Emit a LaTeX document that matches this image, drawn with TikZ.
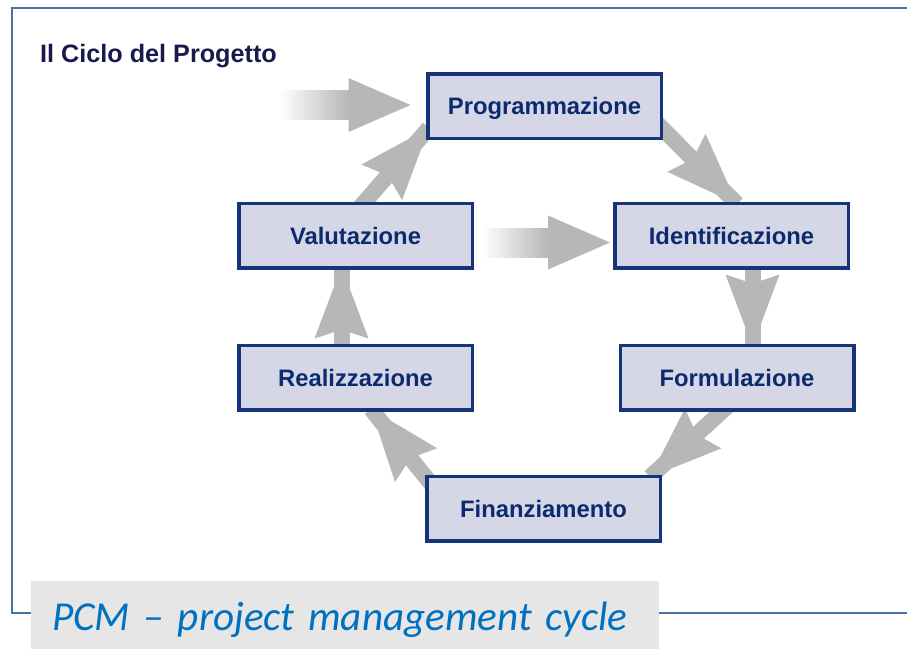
\documentclass[tikz,border=0pt]{standalone}
\usepackage{fontspec}
\setmainfont{Liberation Sans}
\newfontfamily\captionfont{Carlito}
\usepackage{tikz}
\usetikzlibrary{calc,backgrounds}
\usepackage{xcolor}
\definecolor{BoxNavy}{RGB}{22,52,122}
\definecolor{BoxFill}{RGB}{213,215,230}
\definecolor{LabelNavy}{RGB}{12,42,110}
\definecolor{TitleNavy}{RGB}{25,25,75}
\definecolor{ArrowGray}{RGB}{183,183,183}
\definecolor{FrameBlue}{RGB}{72,112,162}
\definecolor{CaptionGray}{RGB}{230,230,230}
\definecolor{CaptionBlue}{RGB}{0,112,192}
\tikzset{
  phase/.style={draw=BoxNavy, line width=3.5pt, fill=BoxFill,
    minimum width=233.5pt, minimum height=64.5pt, inner sep=0pt,
    text height=17pt, text depth=0pt, text=LabelNavy,
    font=\bfseries\fontsize{23.8}{28}\selectfont},
  heading/.style={inner sep=0pt, text=TitleNavy,
    font=\bfseries\fontsize{25.2}{28}\selectfont},
  captionbox/.style={fill=CaptionGray, inner xsep=21pt, inner ysep=0pt,
    text width=586pt, align=left, text height=49pt, text depth=19pt,
    text=CaptionBlue, font=\captionfont\itshape\fontsize{42}{50}\selectfont},
  frameline/.style={draw=FrameBlue, line width=2pt},
  cycshaft/.style={draw=ArrowGray, line width=16pt},
  cychead/.style={fill=ArrowGray}
}
% fat grey arrow of the cycle: shaft plus swallowtail head
\newcommand{\cycarrow}[2]{%
  \draw[cycshaft] (#1) -- (#2);
  \fill[cychead] (#2) -- ($(#2)!72pt!(#1)!27pt!90:(#2)$)
    -- ($(#2)!63pt!(#1)$) -- ($(#2)!72pt!(#1)!27pt!-90:(#2)$) -- cycle;}
% horizontal arrow fading in from the left
\newcommand{\feedarrow}[2]{%
  \shade[left color=white, right color=ArrowGray]
    ($(#1)+(0,-14.5)$) rectangle ($(#2)+(-62,14.5)$);
  \fill[cychead] (#2) -- ($(#2)+(-62,-27)$) -- ($(#2)+(-62,27)$) -- cycle;}

\begin{document}
\begin{tikzpicture}[x=1pt, y=-1pt]
  \useasboundingbox (0,0) rectangle (907,649);
  \node[heading, anchor=base west] (title) at (40,62) {Il Ciclo del Progetto};
  \node[phase] (prog) at (544.5,106) {Programmazione};
  \node[phase] (valu) at (355.5,235.5) {Valutazione};
  \node[phase] (iden) at (731.5,235.5) {Identificazione};
  \node[phase] (real) at (355.5,377.5) {Realizzazione};
  \node[phase] (form) at (737,377.5) {Formulazione};
  \node[phase] (fina) at (543.5,508.5) {Finanziamento};
  \node[captionbox, anchor=north west] (caption) at (31,581)
    {\resizebox{575pt}{!}{PCM – project management cycle}};
  \begin{scope}[on background layer]
    \draw[frameline] (915,8) -- (12,8) -- (12,613) -- (915,613);
    % cycle arrows
    \coordinate (a1s) at ($(prog.south east)+(-11,-22)$);
    \coordinate (a1e) at ($(iden.north)+(5.5,2.5)$);
    \coordinate (a2s) at ($(iden.south)+(21,-10)$);
    \coordinate (a2e) at ($(form.north)+(15.5,3)$);
    \coordinate (a3s) at ($(form.south)+(-6,-8.5)$);
    \coordinate (a3e) at ($(fina.north east)+(-12,2.5)$);
    \coordinate (a4s) at ($(fina.north west)+(21.5,28.5)$);
    \coordinate (a4e) at ($(real.south)+(15.5,-2.5)$);
    \coordinate (a5s) at ($(real.north)+(-14,10)$);
    \coordinate (a5e) at ($(valu.south)+(-14,-3)$);
    \coordinate (a6s) at ($(valu.north)+(-0.5,11.5)$);
    \coordinate (a6e) at ($(prog.south west)+(3,-12)$);
    \cycarrow{a1s}{a1e}
    \cycarrow{a2s}{a2e}
    \cycarrow{a3s}{a3e}
    \cycarrow{a4s}{a4e}
    \cycarrow{a5s}{a5e}
    \cycarrow{a6s}{a6e}
    % entry arrows
    \coordinate (entry) at (279,105);
    \coordinate (entryend) at ($(prog.west)+(-15.5,-1)$);
    \coordinate (mids) at ($(valu.east)+(8,7)$);
    \coordinate (mide) at ($(iden.west)+(-3,7)$);
    \feedarrow{entry}{entryend}
    \feedarrow{mids}{mide}
  \end{scope}
\end{tikzpicture}
\end{document}
